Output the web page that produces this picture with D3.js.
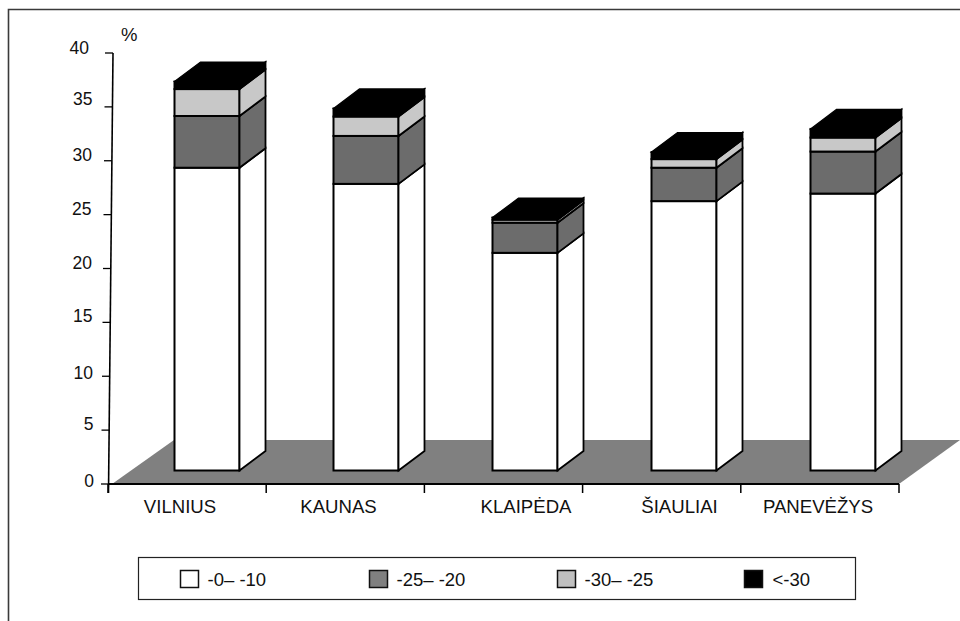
<!DOCTYPE html>
<html>
<head>
<meta charset="utf-8">
<script src="https://cdn.jsdelivr.net/npm/d3@7"></script>
<style>
html,body{margin:0;padding:0;background:#fff;overflow:hidden}
svg{display:block}
text{font-family:"Liberation Sans",Arial,sans-serif;fill:#111}
</style>
</head>
<body>
<svg id="chart" width="960" height="621"></svg>
<script>
const cities = ["VILNIUS","KAUNAS","KLAIPĖDA","ŠIAULIAI","PANEVĖŽYS"];
const seriesNames = ["-0– -10","-25– -20","-30– -25","<-30"];
const band0to10 = [28.1,26.6,20.2,25.0,25.7];
const band25to20 = [4.8,4.45,2.8,3.1,3.9];
const band30to25 = [2.5,1.8,0.28,0.8,1.3];
const bandBelow30 = [0.7,0.75,0.2,0.65,0.8];
const yTicks = [0,5,10,15,20,25,30,35,40];
const fills = ["#ffffff","#6c6c6c","#c8c8c8","#000000"];
const swatchFills = ["#ffffff","#808080","#c0c0c0","#000000"];

const svg = d3.select("#chart");

// outer chart frame, open towards the right and bottom edges
svg.append("path").attr("d","M8.5 621V9.5H960").attr("fill","none").attr("stroke","#3a3a3a").attr("stroke-width",1.6);

const y = d3.scaleLinear().domain([0,40]).range([484,53]);
const axisX = d3.scaleLinear().domain([0,40]).range([109,113]);
const tickX = d3.scalePoint().domain(d3.range(6)).range([108,899]);
const barX = d3.scalePoint().domain(cities).range([207,843]);
const barW = 65, depthX = 26, depthY = 19.5, floorLift = 13.5;

// grey floor plane in oblique projection
svg.append("path")
  .attr("d",d3.line()([[112,484],[174,440],[960,440],[899,484]])+"Z")
  .attr("fill","#808080");

// slanted value axis with its ticks
const axisG = svg.append("g").attr("stroke","#000").attr("fill","none");
axisG.append("line").attr("x1",108.5).attr("y1",493).attr("x2",axisX(40)).attr("y2",y(40)).attr("stroke-width",1.6);
axisG.selectAll("line.t").data(yTicks).join("line").attr("class","t")
  .attr("x1",d=>axisX(d)-8).attr("x2",d=>axisX(d)).attr("y1",d=>y(d)).attr("y2",d=>y(d)).attr("stroke-width",1.3);

// value labels are offset by hand from their ticks
const yLabelNudgeX = [-15,-16,-17,-18,-19,-20,-20,-20,-24];
const yLabelNudgeY = [3,0,3,0,0,0,0,-2,1];
svg.selectAll("text.yl").data(yTicks).join("text").attr("class","yl")
  .attr("x",(d,i)=>axisX(d)+yLabelNudgeX[i]).attr("y",(d,i)=>y(d)+yLabelNudgeY[i]).attr("text-anchor","end")
  .attr("font-size",17.5).text(d=>d);
svg.append("text").attr("x",121).attr("y",41).attr("font-size",18.5).text("%");

// category axis along the front of the floor
const catG = svg.append("g").attr("stroke","#000");
catG.append("line").attr("x1",109).attr("x2",899).attr("y1",484).attr("y2",484).attr("stroke-width",2);
catG.selectAll("line.t").data(d3.range(6)).join("line").attr("class","t")
  .attr("x1",d=>tickX(d)).attr("x2",d=>tickX(d)).attr("y1",484).attr("y2",493).attr("stroke-width",1.5);

const xLabelCenter = d3.scalePoint().domain(cities).range([187,821]);
const xLabelNudge = [-7,-7,22,17,-3];
svg.selectAll("text.xl").data(cities).join("text").attr("class","xl")
  .attr("x",(d,i)=>xLabelCenter(d)+xLabelNudge[i]).attr("y",513).attr("text-anchor","middle")
  .attr("font-size",18.6).text(d=>d);

// stacked oblique columns
const rows = cities.map((c,i)=>({city:c,s0:band0to10[i],s1:band25to20[i],s2:band30to25[i],s3:bandBelow30[i]}));
const stacked = d3.stack().keys(["s0","s1","s2","s3"])(rows);
const py = v => y(v)-floorLift;

const columns = svg.selectAll("g.col").data(cities).join("g").attr("class","col");
columns.each(function(city,ci){
  const g = d3.select(this);
  const x0 = barX(city)-barW/2, x1 = x0+barW;
  stacked.forEach((layer,si)=>{
    const [lo,hi] = layer[ci];
    const fill = fills[si];
    g.append("rect").attr("x",x0).attr("y",py(hi)).attr("width",barW).attr("height",py(lo)-py(hi))
      .attr("fill",fill).attr("stroke","#000").attr("stroke-width",2);
    g.append("path")
      .attr("d",d3.line()([[x1,py(lo)],[x1+depthX,py(lo)-depthY],[x1+depthX,py(hi)-depthY],[x1,py(hi)]])+"Z")
      .attr("fill",fill).attr("stroke","#000").attr("stroke-width",1.8);
  });
  const top = stacked[3][ci][1];
  g.append("path")
    .attr("d",d3.line()([[x0,py(top)],[x0+depthX,py(top)-depthY],[x1+depthX,py(top)-depthY],[x1,py(top)]])+"Z")
    .attr("fill","#000").attr("stroke","#000").attr("stroke-width",1.2);
});

// legend box
svg.append("rect").attr("x",138.5).attr("y",557.5).attr("width",717).attr("height",42)
  .attr("fill","#fff").attr("stroke","#222").attr("stroke-width",1.2);
const legendSwatchX = [180.5,369.5,557.5,744.5];
const legend = svg.selectAll("g.lg").data(seriesNames).join("g").attr("class","lg")
  .attr("transform",(d,i)=>`translate(${legendSwatchX[i]},570.5)`);
legend.append("rect").attr("width",18).attr("height",17)
  .attr("fill",(d,i)=>swatchFills[i]).attr("stroke","#111").attr("stroke-width",1.5);
legend.append("text").attr("x",(d,i)=>i===3?28:27).attr("y",15).attr("font-size",18.5).text(d=>d);
</script>
</body>
</html>
